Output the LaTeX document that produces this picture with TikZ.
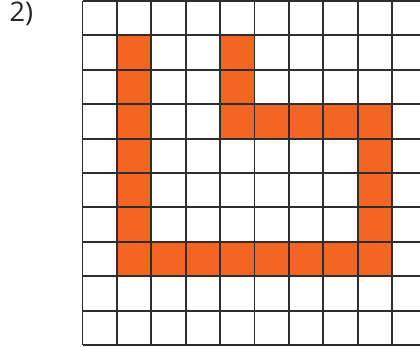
\documentclass[tikz,border=0pt]{standalone}
\usepackage{fontspec}
\setmainfont{Open Sans}
\definecolor{cellorange}{HTML}{F26522}
\definecolor{gridline}{HTML}{2E2E2E}
\tikzset{
  gridstroke/.style={draw=gridline, line width=1.9pt},
  filled/.style={fill=cellorange},
  labeltext/.style={font=\fontsize{27}{31}\selectfont, text=black!85, inner sep=0pt, anchor=north west}
}
\begin{document}
\begin{tikzpicture}[x=1pt,y=-1pt]
\useasboundingbox (0,0) rectangle (420,346);
\clip (0,0) rectangle (420,346);
\def\xo{82.5}\def\yo{1}\def\s{34.4}
% orange cells (column, row)
\foreach \c/\r in {1/1,1/2,1/3,1/4,1/5,1/6,1/7,
                   4/1,4/2,4/3,5/3,6/3,7/3,8/3,
                   8/4,8/5,8/6,8/7,
                   2/7,3/7,4/7,5/7,6/7,7/7}{
  \fill[filled] ({\xo+\c*\s},{\yo+\r*\s}) rectangle ++(\s,\s);
}
% grid
\foreach \i in {0,...,10}{
  \draw[gridstroke] ({\xo+\i*\s},{\yo}) -- ({\xo+\i*\s},{\yo+10*\s});
  \draw[gridstroke] ({\xo},{\yo+\i*\s}) -- ({\xo+10*\s},{\yo+\i*\s});
}
\node[labeltext] (lbl) at (9.5,1.5) {2)};
\end{tikzpicture}
\end{document}
